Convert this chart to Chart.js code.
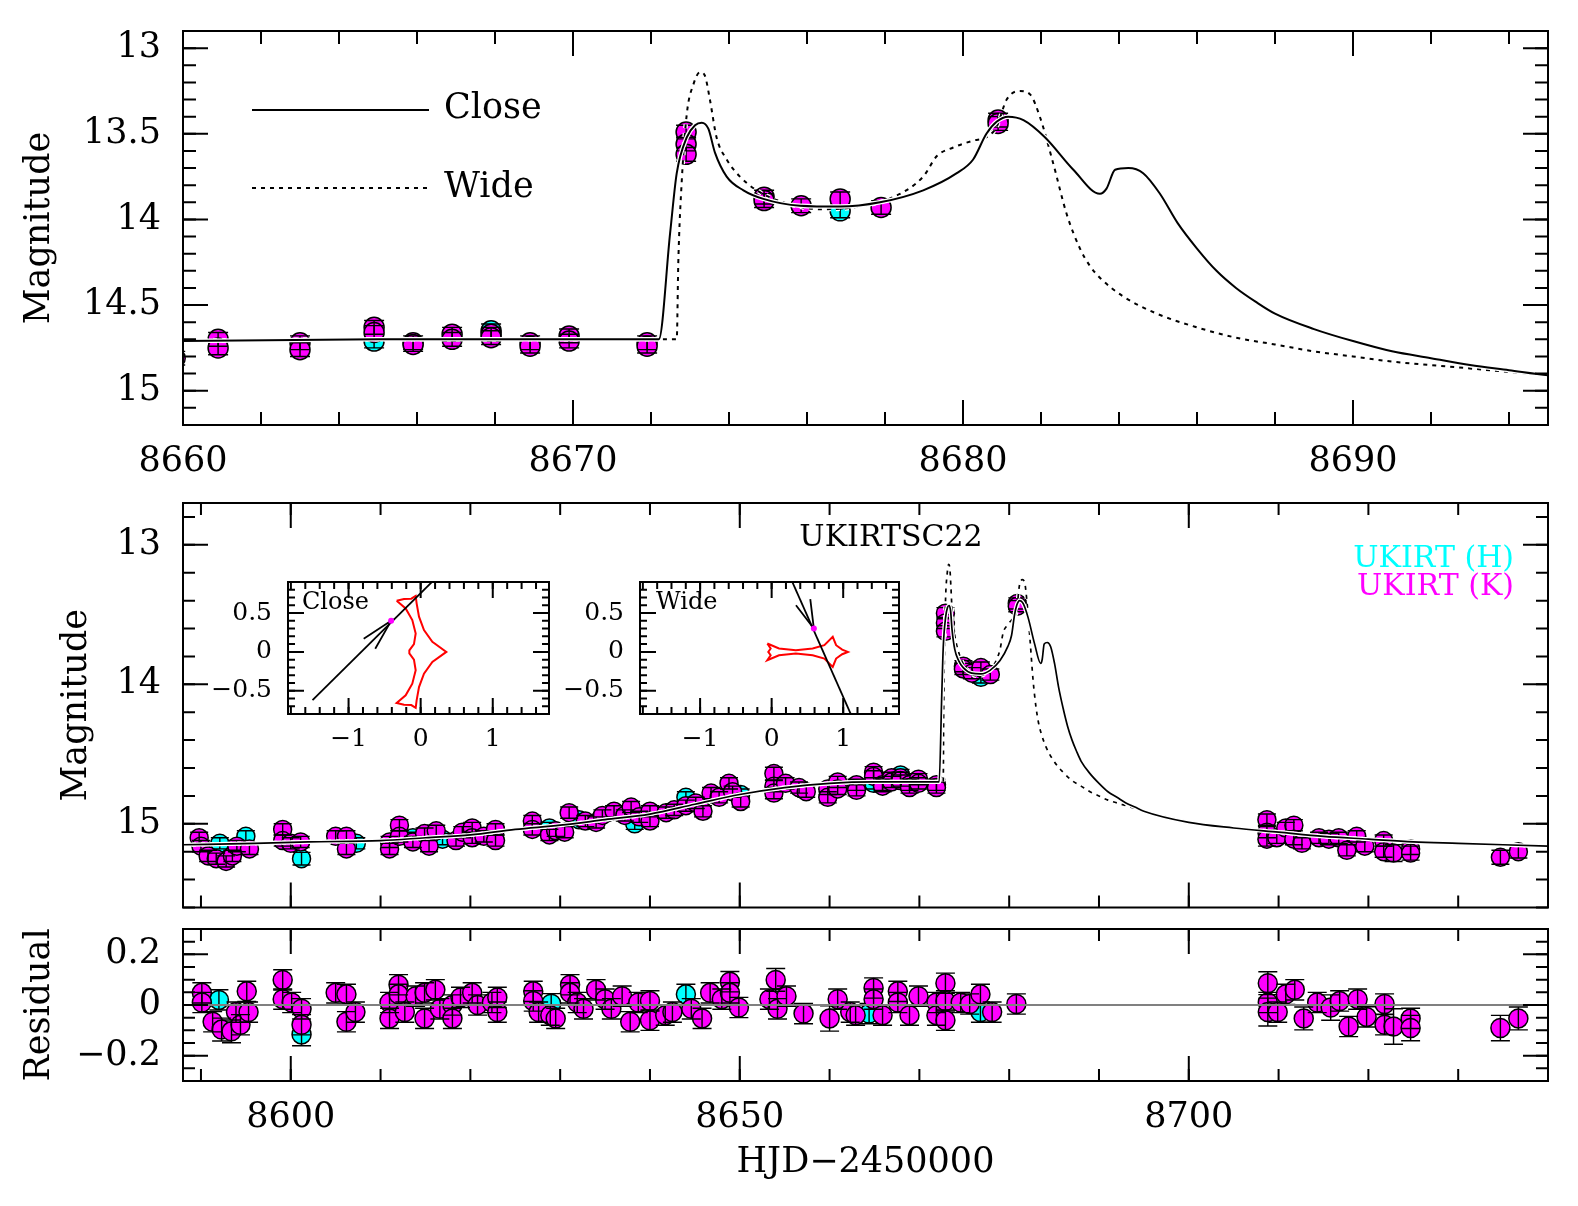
<!DOCTYPE html>
<html>
<head>
<meta charset="utf-8">
<script src="https://cdn.jsdelivr.net/npm/chart.js@4.4.0/dist/chart.umd.min.js"></script>
<style>
  html, body { margin: 0; padding: 0; background: #fff; }
  #wrap { position: relative; width: 1578px; height: 1206px; overflow: hidden; background: #fff; }
  canvas { position: absolute; }
</style>
</head>
<body>
<div id="wrap">
  <canvas id="top" width="1578" height="480" style="left:0px;top:0px"></canvas>
  <canvas id="mid" width="1578" height="438" style="left:0px;top:480px"></canvas>
  <canvas id="res" width="1578" height="288" style="left:0px;top:918px"></canvas>
  <canvas id="insClose" width="360" height="200" style="left:200px;top:560px"></canvas>
  <canvas id="insWide" width="360" height="200" style="left:552px;top:560px"></canvas>
</div>
<script>
// UKIRT K band (magenta) - HJD-2450000, magnitude, error
const kT = [8589.8, 8590.0, 8590.8, 8591.7, 8592.8, 8593.5, 8594.0, 8595.4, 8599.1, 8599.1, 8600.0, 8601.1, 8605.0, 8606.2, 8606.2,
  8611.0, 8611.0, 8612.1, 8612.1, 8613.6, 8614.9, 8615.4, 8616.2, 8618.4, 8619.1, 8620.2, 8620.2, 8621.5, 8622.8, 8622.8,
  8626.9, 8626.9, 8628.8, 8629.5, 8630.5, 8631.0, 8632.8, 8634.0, 8634.7, 8636.0, 8637.2, 8637.9, 8638.8, 8640.0, 8640.0,
  8641.8, 8642.7, 8644.0, 8645.1, 8645.9, 8646.8, 8647.7, 8648.8, 8649.2, 8650.1,
  8653.8, 8653.8, 8653.8, 8655.1, 8656.6, 8657.4, 8659.8, 8659.8,
  8660.9, 8660.9, 8663.0, 8663.0, 8664.9, 8664.9, 8665.9, 8665.9, 8666.9, 8666.9, 8667.9, 8667.9, 8668.9, 8668.9, 8669.9, 8669.9, 8671.9, 8671.9,
  8672.9, 8672.9, 8672.9, 8674.9, 8674.9, 8675.85, 8676.85, 8677.9, 8680.9, 8680.9,
  8708.7, 8708.7, 8708.7, 8709.8, 8710.8, 8711.7, 8711.7, 8712.6, 8714.5, 8715.6, 8716.7, 8717.6, 8718.7, 8719.6, 8721.7, 8721.7,
  8722.8, 8724.7, 8724.7, 8734.7, 8736.7];
const kMag = [15.10, 15.16, 15.23, 15.25, 15.27, 15.23, 15.16, 15.18, 15.04, 15.12, 15.14, 15.13, 15.09, 15.09, 15.18,
  15.13, 15.18, 15.01, 15.09, 15.13, 15.07, 15.16, 15.05, 15.12, 15.06, 15.03, 15.10, 15.09, 15.04, 15.12,
  14.98, 15.04, 15.08, 15.05, 15.06, 14.92, 14.98, 14.99, 14.94, 14.91, 14.94, 14.88, 14.95, 14.91, 14.98,
  14.92, 14.90, 14.87, 14.85, 14.91, 14.78, 14.81, 14.71, 14.77, 14.84,
  14.64, 14.73, 14.78, 14.71, 14.74, 14.77, 14.75, 14.81,
  14.70, 14.75, 14.72, 14.76, 14.63, 14.66, 14.72, 14.73, 14.67, 14.70, 14.67, 14.69, 14.72, 14.74, 14.68, 14.71, 14.72, 14.74,
  13.49, 13.56, 13.62, 13.87, 13.89, 13.92, 13.88, 13.93, 13.42, 13.44,
  14.97, 15.06, 15.11, 15.10, 15.03, 15.01, 15.11, 15.14, 15.10, 15.11, 15.10, 15.19, 15.09, 15.16, 15.12, 15.20,
  15.21, 15.18, 15.21, 15.24, 15.20];
const kErr = [0.04, 0.04, 0.04, 0.04, 0.04, 0.04, 0.04, 0.04, 0.04, 0.04, 0.04, 0.04, 0.04, 0.04, 0.04,
  0.04, 0.04, 0.04, 0.04, 0.04, 0.04, 0.04, 0.04, 0.04, 0.04, 0.04, 0.04, 0.04, 0.04, 0.04,
  0.04, 0.04, 0.04, 0.04, 0.04, 0.04, 0.04, 0.04, 0.04, 0.04, 0.04, 0.04, 0.04, 0.04, 0.04,
  0.04, 0.04, 0.04, 0.04, 0.04, 0.04, 0.04, 0.04, 0.04, 0.04,
  0.045, 0.04, 0.04, 0.04, 0.04, 0.04, 0.04, 0.04,
  0.04, 0.04, 0.04, 0.04, 0.04, 0.04, 0.04, 0.04, 0.04, 0.04, 0.04, 0.04, 0.04, 0.04, 0.04, 0.04, 0.04, 0.04,
  0.04, 0.04, 0.04, 0.04, 0.04, 0.04, 0.04, 0.04, 0.04, 0.04,
  0.04, 0.04, 0.05, 0.04, 0.04, 0.04, 0.04, 0.04, 0.04, 0.04, 0.04, 0.04, 0.04, 0.04, 0.04, 0.04,
  0.06, 0.04, 0.05, 0.05, 0.045];

// UKIRT H band (cyan)
const hT = [8592.1, 8595.0, 8601.2, 8607.3, 8613.6, 8616.9, 8628.8, 8632.1, 8638.3, 8644.0, 8650.1, 8664.9, 8667.9, 8676.85];
const hMag = [15.14, 15.09, 15.25, 15.14, 15.10, 15.11, 15.03, 14.97, 15.00, 14.81, 14.79, 14.71, 14.65, 13.95];
const hErr = [0.04, 0.04, 0.045, 0.04, 0.04, 0.04, 0.04, 0.04, 0.04, 0.04, 0.04, 0.04, 0.04, 0.04];

// residuals
const rkT = [8590.1, 8590.1, 8591.3, 8592.3, 8593.4, 8593.9, 8594.4, 8595.1, 8595.3, 8599.1, 8599.1, 8600.1, 8601.2, 8601.2, 8605.0, 8606.2, 8606.2, 8607.2,
  8611.0, 8611.0, 8612.0, 8612.0, 8612.7, 8613.9, 8614.9, 8614.9, 8616.1, 8616.6, 8618.0, 8618.0, 8618.9, 8620.2, 8620.8, 8622.4, 8623.0, 8623.0,
  8627.0, 8627.0, 8627.6, 8628.9, 8629.5, 8631.1, 8631.1, 8631.9, 8632.6, 8634.0, 8635.0, 8635.7, 8636.9, 8637.8, 8638.7, 8640.0, 8640.0,
  8641.7, 8642.5, 8644.6, 8645.8, 8646.7, 8648.0, 8648.9, 8648.9, 8649.9,
  8653.3, 8654.0, 8654.2, 8655.2, 8657.1, 8660.0, 8660.9, 8662.3, 8662.9, 8664.9, 8664.9, 8665.9, 8667.6, 8667.6, 8668.9, 8669.9, 8671.9, 8671.9,
  8672.9, 8672.9, 8672.9, 8674.6, 8675.6, 8676.8, 8678.1, 8680.8,
  8708.8, 8708.8, 8708.8, 8709.9, 8710.8, 8711.8, 8712.8, 8714.3, 8715.8, 8716.8, 8717.8, 8718.8, 8719.8, 8721.8, 8721.8, 8722.8, 8724.7, 8724.7, 8734.7, 8736.7];
const rkRes = [0.048, 0.010, -0.066, -0.097, -0.104, -0.028, -0.078, 0.054, -0.028, 0.099, 0.023, 0.010, -0.015, -0.078, 0.048, 0.042, -0.066, -0.028,
  0.010, -0.053, 0.080, 0.042, -0.028, 0.035, 0.048, -0.053, 0.060, -0.015, 0.000, -0.053, 0.030, 0.048, 0.000, 0.010, -0.028, 0.030,
  0.054, 0.016, -0.028, -0.040, -0.053, 0.080, 0.048, 0.010, -0.015, 0.060, 0.023, -0.015, 0.035, -0.066, 0.010, -0.060, 0.016,
  -0.040, -0.028, -0.015, -0.053, 0.048, 0.023, 0.092, 0.048, -0.010,
  0.023, 0.099, -0.015, 0.035, -0.034, -0.053, 0.023, -0.028, -0.040, 0.067, 0.023, -0.040, 0.054, 0.010, -0.040, 0.035, 0.010, -0.040,
  0.086, 0.016, -0.060, 0.010, 0.004, 0.042, -0.028, 0.004,
  0.086, 0.010, -0.028, -0.028, 0.042, 0.060, -0.053, 0.010, -0.010, 0.016, -0.085, 0.023, -0.047, 0.004, -0.078, -0.085, -0.053, -0.091, -0.091, -0.053];
const rkErr = [0.04, 0.04, 0.04, 0.045, 0.045, 0.04, 0.04, 0.04, 0.04, 0.04, 0.04, 0.04, 0.04, 0.04, 0.04, 0.04, 0.04, 0.04,
  0.04, 0.04, 0.04, 0.04, 0.04, 0.04, 0.04, 0.04, 0.04, 0.04, 0.04, 0.04, 0.04, 0.04, 0.04, 0.04, 0.04, 0.04,
  0.04, 0.04, 0.04, 0.04, 0.04, 0.04, 0.04, 0.04, 0.04, 0.04, 0.04, 0.04, 0.04, 0.04, 0.04, 0.04, 0.04,
  0.04, 0.04, 0.04, 0.04, 0.04, 0.04, 0.04, 0.04, 0.04,
  0.04, 0.045, 0.04, 0.04, 0.04, 0.05, 0.04, 0.04, 0.04, 0.04, 0.04, 0.04, 0.04, 0.04, 0.04, 0.04, 0.04, 0.04,
  0.04, 0.04, 0.04, 0.04, 0.04, 0.04, 0.04, 0.04,
  0.045, 0.04, 0.055, 0.04, 0.04, 0.04, 0.045, 0.04, 0.05, 0.04, 0.04, 0.04, 0.04, 0.04, 0.04, 0.07, 0.04, 0.05, 0.05, 0.045];
const rhT = [8592.0, 8601.2, 8629.0, 8644.0, 8664.4, 8676.8];
const rhRes = [0.020, -0.116, 0.005, 0.042, -0.034, -0.028];
const rhErr = [0.04, 0.045, 0.04, 0.04, 0.04, 0.04];

// models
const closeT = [8588, 8596, 8602, 8610, 8615, 8620, 8625, 8630, 8635, 8640, 8645, 8650, 8655, 8660, 8665,
  8672.2, 8672.49, 8672.66, 8672.92, 8673.13, 8673.3, 8673.47, 8673.64, 8673.94, 8674.37, 8674.88, 8675.82, 8676.85, 8677.87,
  8678.98, 8679.84, 8680.26, 8680.6, 8680.86, 8681.16, 8681.55, 8682.1, 8682.83, 8683.51, 8683.68, 8683.9, 8684.24, 8684.62,
  8685.05, 8685.5, 8686, 8686.5, 8687, 8687.5, 8688, 8689, 8690, 8691, 8692, 8693, 8694, 8695,
  8700, 8705, 8710, 8715, 8720, 8725, 8730, 8740];
const closeMag = [15.15, 15.14, 15.13, 15.12, 15.10, 15.08, 15.04, 15.01, 14.97, 14.93, 14.86, 14.79, 14.74, 14.71, 14.70,
  14.70, 14.08, 13.73, 13.52, 13.45, 13.435, 13.47, 13.61, 13.75, 13.83, 13.88, 13.92, 13.925, 13.90,
  13.83, 13.73, 13.65, 13.50, 13.43, 13.40, 13.42, 13.52, 13.71, 13.85, 13.82, 13.71, 13.70, 13.73,
  13.85, 14.02, 14.17, 14.30, 14.40, 14.48, 14.55, 14.64, 14.71, 14.77, 14.81, 14.85, 14.88, 14.91,
  14.99, 15.03, 15.06, 15.09, 15.11, 15.13, 15.14, 15.16];
const wideT = [8588, 8596, 8602, 8610, 8615, 8620, 8625, 8630, 8635, 8640, 8645, 8650, 8655, 8660, 8665,
  8672.66, 8672.7, 8672.79, 8672.92, 8673.09, 8673.26, 8673.38, 8673.51, 8673.68, 8673.94, 8674.28, 8674.71, 8675.39, 8676.33,
  8677.19, 8678.21, 8678.98, 8679.33, 8679.75, 8680.26, 8680.6, 8680.86, 8681.12, 8681.46, 8681.72, 8681.97, 8682.31, 8682.66,
  8683, 8683.25, 8683.51, 8684.11, 8684.97, 8686, 8687, 8688, 8689, 8690, 8691, 8692, 8693, 8694, 8695,
  8700, 8705, 8710, 8715, 8720, 8725, 8730, 8740];
const wideMag = [15.15, 15.14, 15.13, 15.12, 15.10, 15.08, 15.04, 15.01, 14.97, 14.93, 14.86, 14.79, 14.74, 14.71, 14.70,
  14.70, 14.25, 13.77, 13.38, 13.21, 13.14, 13.16, 13.30, 13.52, 13.65, 13.75, 13.83, 13.90, 13.94,
  13.93, 13.87, 13.75, 13.63, 13.58, 13.54, 13.52, 13.46, 13.30, 13.25, 13.27, 13.40, 13.67, 13.97,
  14.17, 14.27, 14.34, 14.45, 14.55, 14.63, 14.69, 14.73, 14.77, 14.80, 14.83, 14.85, 14.87, 14.89, 14.91,
  14.985, 15.03, 15.06, 15.09, 15.11, 15.13, 15.14, 15.16];
const zeroT = [8588, 8740];
const zeroRes = [0, 0];

// insets: caustics, source trajectories
const closeCausticX = [-0.333, -0.231, -0.130, -0.069, -0.056, -0.023, 0.046, 0.162, 0.356, 0.162, 0.046, -0.023, -0.056, -0.069,
  -0.130, -0.231, -0.333, -0.208, -0.116, -0.069, -0.093, -0.157, -0.157, -0.093, -0.069, -0.116, -0.208, -0.333];
const closeCausticY = [0.659, 0.681, 0.685, 0.720, 0.625, 0.453, 0.280, 0.129, 0.000, -0.129, -0.280, -0.453, -0.625, -0.720,
  -0.685, -0.681, -0.659, -0.560, -0.409, -0.237, -0.099, -0.020, 0.020, 0.099, 0.237, 0.409, 0.560, 0.659];
const closeTrajX = [-1.50, 0.20];
const closeTrajY = [-0.62, 0.94];
const closeArrowX = [-0.79, -0.41, -0.63];
const closeArrowY = [0.17, 0.40, 0.04];
const closeSrcX = [-0.41];
const closeSrcY = [0.40];
const wideCausticX = [-0.061, 0.103, 0.338, 0.573, 0.737, 0.854, 0.901, 0.986, 1.066, 0.986, 0.901, 0.854, 0.737, 0.573, 0.338, 0.103,
  -0.061, -0.014, -0.047, -0.014, -0.061];
const wideCausticY = [0.108, 0.043, 0.022, 0.043, 0.086, 0.194, 0.086, 0.030, 0.000, -0.030, -0.086, -0.194, -0.086, -0.043, -0.022, -0.043,
  -0.108, -0.043, 0.000, 0.043, 0.108];
const wideTrajX = [0.27, 1.12];
const wideTrajY = [0.94, -0.83];
const wideArrowX = [0.34, 0.59, 0.54];
const wideArrowY = [0.60, 0.30, 0.68];
const wideSrcX = [0.59];
const wideSrcY = [0.30];

// tick labels
const topXTicks = [8660, 8670, 8680, 8690];
const topYTicks = [13, 13.5, 14, 14.5, 15];
const midYTicks = [13, 14, 15];
const resXTicks = [8600, 8650, 8700];
const resYTicks = [-0.2, 0, 0.2];
const insXTicks = [-1, 0, 1];
const insYTicks = [-0.5, 0, 0.5];

Chart.defaults.font.family = '"DejaVu Serif", serif';
Chart.defaults.color = '#000';

const MAG = '#ff00ff', CYA = '#00ffff';
const pts = (xs, ys) => xs.map((x, i) => ({ x: x, y: ys[i] }));
const fmt = v => (v < 0 ? '\u2212' + Math.abs(v) : String(v));

// error bars drawn right after each marker dataset
const errorBars = {
  id: 'errorBars',
  afterDatasetDraw(chart, args) {
    const ds = chart.data.datasets[args.index];
    if (!ds.errs) return;
    const ys = chart.scales.y, a = chart.chartArea, ctx = chart.ctx;
    const cap = ds.pointRadius;
    ctx.save();
    ctx.beginPath(); ctx.rect(a.left, a.top, a.width, a.height); ctx.clip();
    ctx.strokeStyle = '#000'; ctx.lineWidth = 1.4;
    args.meta.data.forEach((p, i) => {
      const v = ds.data[i].y, e = ds.errs[i];
      const y1 = ys.getPixelForValue(v - e), y2 = ys.getPixelForValue(v + e);
      ctx.beginPath();
      ctx.moveTo(p.x, y1); ctx.lineTo(p.x, y2);
      ctx.moveTo(p.x - cap, y1); ctx.lineTo(p.x + cap, y1);
      ctx.moveTo(p.x - cap, y2); ctx.lineTo(p.x + cap, y2);
      ctx.stroke();
    });
    ctx.restore();
  }
};

// box with inward ticks on all four sides
const frameCfg = {};
const frame = {
  id: 'frame',
  afterDraw(chart) {
    const o = frameCfg[chart.canvas.id];
    const { ctx, chartArea: a } = chart;
    const xs = chart.scales.x, ys = chart.scales.y;
    ctx.save();
    ctx.strokeStyle = '#000'; ctx.lineWidth = o.lw; ctx.lineCap = 'butt';
    const ticks = (sc, step, len, horiz) => {
      for (let k = Math.ceil(sc.min / step - 1e-6); k * step <= sc.max + 1e-9; k++) {
        const p = sc.getPixelForValue(k * step);
        ctx.beginPath();
        if (horiz) {
          ctx.moveTo(p, a.bottom); ctx.lineTo(p, a.bottom - len);
          ctx.moveTo(p, a.top); ctx.lineTo(p, a.top + len);
        } else {
          ctx.moveTo(a.left, p); ctx.lineTo(a.left + len, p);
          ctx.moveTo(a.right, p); ctx.lineTo(a.right - len, p);
        }
        ctx.stroke();
      }
    };
    ticks(xs, o.xMinor, o.minorLen, true);
    ticks(xs, o.xMajor, o.majorLen, true);
    ticks(ys, o.yMinor, o.minorLen, false);
    ticks(ys, o.yMajor, o.majorLen, false);
    ctx.strokeRect(a.left, a.top, a.width, a.height);
    ctx.restore();
  }
};

// legend samples and labels
const decorCfg = {};
const decor = {
  id: 'decor',
  afterDraw(chart) {
    const o = decorCfg[chart.canvas.id];
    if (!o) return;
    const ctx = chart.ctx;
    ctx.save();
    (o.lines || []).forEach(l => {
      ctx.beginPath(); ctx.setLineDash(l.dash); ctx.strokeStyle = '#000'; ctx.lineWidth = 2;
      ctx.moveTo(l.x1, l.y); ctx.lineTo(l.x2, l.y); ctx.stroke();
    });
    ctx.setLineDash([]);
    (o.texts || []).forEach(t => {
      ctx.font = t.size + 'px "DejaVu Serif"';
      ctx.fillStyle = t.color || '#000';
      ctx.textAlign = t.align || 'left';
      ctx.textBaseline = 'alphabetic';
      ctx.fillText(t.text, t.x, t.y);
    });
    ctx.restore();
  }
};

function axis(min, max, tickVals, o) {
  return {
    type: 'linear', min: min, max: max, reverse: !!o.reverse,
    grid: { display: false, drawTicks: false },
    border: { display: false },
    afterBuildTicks: s => { s.ticks = tickVals.map(v => ({ value: v })); },
    ticks: { display: o.show !== false, color: '#000', font: { size: o.size || 35 }, padding: o.pad || 14,
             autoSkip: false, maxRotation: 0, minRotation: 0, callback: fmt },
    title: o.title ? { display: true, text: o.title, color: '#000', font: { size: 35 }, padding: o.titlePad } : { display: false }
  };
}

function panel(id, area, x, y, datasets) {
  const cv = document.getElementById(id);
  const W = cv.width, H = cv.height;
  x.afterFit = s => { s.height = H - area.bottom; s.paddingLeft = 0; s.paddingRight = 0; s.paddingTop = 0; s.paddingBottom = 0; };
  y.afterFit = s => { s.width = area.left; s.paddingLeft = 0; s.paddingRight = 0; s.paddingTop = 0; s.paddingBottom = 0; };
  return new Chart(cv, {
    type: 'scatter',
    data: { datasets: datasets },
    options: {
      responsive: false, animation: false, devicePixelRatio: 1, events: [],
      layout: { padding: { left: 0, top: area.top, right: W - area.right, bottom: 0 } },
      scales: { x: x, y: y },
      plugins: { legend: { display: false }, tooltip: { enabled: false } }
    },
    plugins: [errorBars, frame, decor]
  });
}

function modelSets(lw) {
  return [
    { data: pts(closeT, closeMag), showLine: true, pointRadius: 0, borderColor: '#000', borderWidth: lw, cubicInterpolationMode: 'monotone' },
    { data: pts(closeT, closeMag), showLine: true, pointRadius: 0, borderColor: '#fff', borderWidth: lw + 2.5, cubicInterpolationMode: 'monotone' },
    { data: pts(wideT, wideMag), showLine: true, pointRadius: 0, borderColor: '#000', borderWidth: lw, borderDash: [4, 5], cubicInterpolationMode: 'monotone' },
    { data: pts(wideT, wideMag), showLine: true, pointRadius: 0, borderColor: '#fff', borderWidth: lw + 2.5, borderDash: [4, 5], cubicInterpolationMode: 'monotone' }
  ];
}
function markerSets(r, kx, ky, ke, hx, hy, he) {
  return [
    { data: pts(kx, ky), errs: ke, pointRadius: r, pointBackgroundColor: MAG, pointBorderColor: '#000', pointBorderWidth: 1.5, clip: 0 },
    { data: pts(hx, hy), errs: he, pointRadius: r, pointBackgroundColor: CYA, pointBorderColor: '#000', pointBorderWidth: 1.5, clip: 0 }
  ];
}

// top: zoom on the anomaly
frameCfg.top = { xMinor: 2, xMajor: 10, yMinor: 0.1, yMajor: 0.5, minorLen: 13, majorLen: 25, lw: 2 };
decorCfg.top = {
  lines: [{ x1: 252, x2: 429, y: 110, dash: [] }, { x1: 252, x2: 429, y: 188, dash: [4, 5] }],
  texts: [{ text: 'Close', x: 444, y: 118, size: 35 }, { text: 'Wide', x: 444, y: 197, size: 35 }]
};
panel('top', { left: 183, top: 31, right: 1548, bottom: 425 },
  axis(8660, 8695, topXTicks, { pad: 16 }),
  axis(12.9, 15.2, topYTicks, { reverse: true, pad: 22, title: 'Magnitude', titlePad: { top: 19, bottom: 0 } }),
  modelSets(2).concat(markerSets(10, kT, kMag, kErr, hT, hMag, hErr)));

// middle: full light curve
frameCfg.mid = { xMinor: 10, xMajor: 50, yMinor: 0.2, yMajor: 1, minorLen: 12, majorLen: 25, lw: 2 };
decorCfg.mid = {
  texts: [
    { text: 'UKIRTSC22', x: 891, y: 66, size: 30, align: 'center' },
    { text: 'UKIRT (H)', x: 1514, y: 87, size: 30, align: 'right', color: CYA },
    { text: 'UKIRT (K)', x: 1514, y: 115, size: 30, align: 'right', color: MAG }
  ]
};
panel('mid', { left: 183, top: 23, right: 1548, bottom: 433 },
  axis(8588, 8740, [], { show: false }),
  axis(12.7, 15.6, midYTicks, { reverse: true, pad: 22, title: 'Magnitude', titlePad: { top: 56, bottom: 0 } }),
  modelSets(1.7).concat(markerSets(9, kT, kMag, kErr, hT, hMag, hErr)));

// bottom: residuals
frameCfg.res = { xMinor: 10, xMajor: 50, yMinor: 0.05, yMajor: 0.2, minorLen: 12, majorLen: 25, lw: 2 };
panel('res', { left: 183, top: 5, right: 1548, bottom: 163 },
  axis(8588, 8740, resXTicks, { pad: 16, title: 'HJD\u22122450000', titlePad: { top: 0, bottom: 22 } }),
  axis(-0.3, 0.3, resYTicks, { pad: 22, title: 'Residual', titlePad: { top: 19, bottom: 0 } }),
  [{ data: pts(zeroT, zeroRes), showLine: true, pointRadius: 0, borderColor: '#808080', borderWidth: 2 }]
    .concat(markerSets(9.5, rkT, rkRes, rkErr, rhT, rhRes, rhErr)));

// insets
function insetSets(cx, cy, tx, ty, ax, ay, sx, sy) {
  return [
    { data: pts(sx, sy), pointRadius: 3, pointBackgroundColor: MAG, pointBorderWidth: 0 },
    { data: pts(tx, ty), showLine: true, pointRadius: 0, borderColor: '#000', borderWidth: 1.8 },
    { data: pts(ax, ay), showLine: true, pointRadius: 0, borderColor: '#000', borderWidth: 1.8 },
    { data: pts(cx, cy), showLine: true, pointRadius: 0, borderColor: '#ff0000', borderWidth: 2 }
  ];
}
frameCfg.insClose = { xMinor: 0.2, xMajor: 1, yMinor: 0.1, yMajor: 0.5, minorLen: 7, majorLen: 16, lw: 2 };
frameCfg.insWide = frameCfg.insClose;
decorCfg.insClose = { texts: [{ text: 'Close', x: 102, y: 49, size: 24 }] };
decorCfg.insWide = { texts: [{ text: 'Wide', x: 104, y: 49, size: 24 }] };
panel('insClose', { left: 88, top: 22, right: 349, bottom: 154 },
  axis(-1.84, 1.78, insXTicks, { size: 25, pad: 10 }),
  axis(-0.8, 0.9, insYTicks, { size: 25, pad: 16 }),
  insetSets(closeCausticX, closeCausticY, closeTrajX, closeTrajY, closeArrowX, closeArrowY, closeSrcX, closeSrcY));
panel('insWide', { left: 88, top: 22, right: 347, bottom: 154 },
  axis(-1.84, 1.78, insXTicks, { size: 25, pad: 10 }),
  axis(-0.8, 0.9, insYTicks, { size: 25, pad: 16 }),
  insetSets(wideCausticX, wideCausticY, wideTrajX, wideTrajY, wideArrowX, wideArrowY, wideSrcX, wideSrcY));
</script>
</body>
</html>
